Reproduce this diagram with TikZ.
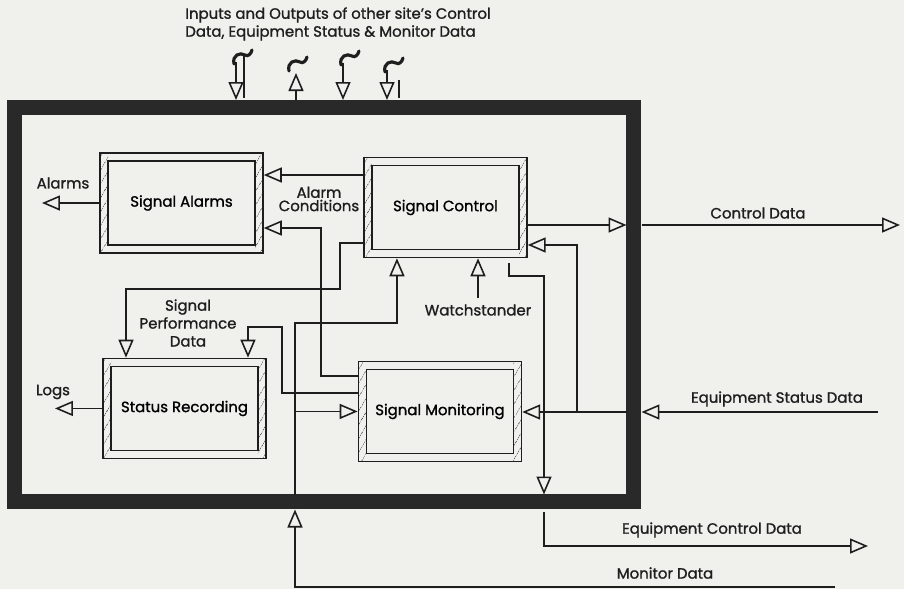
\documentclass[tikz,border=0pt]{standalone}
\usepackage{fontspec}
\setmainfont{Poppins}[FakeBold=1.2]
\usetikzlibrary{arrows.meta, positioning, patterns.meta, calc}
\definecolor{paper}{RGB}{240,240,237}
\definecolor{ink}{RGB}{30,30,30}
\tikzset{
  funcbox/.style={rectangle, draw=ink, line width=0.9pt, minimum width=3.26cm, minimum height=2cm, inner sep=0pt, text centered, font=\fontsize{8.5}{10}\selectfont,
    path picture={
      \fill[pattern={Lines[angle=60, distance=4pt, line width=0.4pt]}, pattern color=ink!70]
        (path picture bounding box.south west) rectangle ([xshift=0.16cm]path picture bounding box.north west)
        ([xshift=-0.16cm]path picture bounding box.south east) rectangle (path picture bounding box.north east);
      \draw[ink, line width=0.9pt] ([shift={(0.16cm,0.16cm)}]path picture bounding box.south west) rectangle ([shift={(-0.16cm,-0.16cm)}]path picture bounding box.north east);
    }},
  arrow/.style={draw=ink, line width=0.9pt, -{Triangle[open, length=0.36cm, width=0.3cm, line width=0.9pt]}},
  plain/.style={draw=ink, line width=0.9pt},
  wire/.style={draw=ink, line width=1.8pt, line cap=round},
  lbl/.style={inner sep=0pt, align=center, text=ink, font=\fontsize{8.5}{10}\selectfont}
}
\newcommand{\wireend}[1]{%
  \draw[wire] ($(#1)+(-2,2)$) .. controls ($(#1)+(-4,-7)$) and ($(#1)+(4,-10)$) .. ($(#1)+(9,-7)$) .. controls ($(#1)+(12,-5)$) and ($(#1)+(15,-8)$) .. ($(#1)+(16,-12)$);}

\begin{document}
\begin{tikzpicture}[x=0.02cm, y=-0.02cm, node distance=5.28cm]
    \fill[paper] (0,0) rectangle (904,589);
    \useasboundingbox (0,0) rectangle (904,589);

    % site boundary
    \node (site) [rectangle, draw=ink!95, line width=0.3cm, minimum width=12.4cm, minimum height=7.89cm, inner sep=0pt, outer sep=0pt] at (324,304.75) {};

    % functions
    \node (alarms) [funcbox] at (181.5,203) {Signal Alarms};
    \node (ctrl) [funcbox, right of=alarms, yshift=-0.09cm] {Signal Control};
    \node (rec) [funcbox, below of=alarms, node distance=4.11cm, xshift=0.06cm] {Status Recording};
    \node (mon) [funcbox, right of=rec, node distance=5.11cm, yshift=-0.06cm] {Signal Monitoring};

    % labels
    \node (lblTop) [lbl, anchor=north west, align=left, font=\fontsize{8.5}{10.2}\selectfont] at (185,7) {Inputs and Outputs of other site's Control\\Data, Equipment Status \& Monitor Data};
    \node (lblAlarms) [lbl] at (63,183) {Alarms};
    \node (lblCond) [lbl, font=\fontsize{8.5}{7.6}\selectfont] at (319,199) {Alarm\\Conditions};
    \node (lblPerf) [lbl, font=\fontsize{8.5}{10.2}\selectfont] at (188,323) {Signal\\Performance\\Data};
    \node (watch) [lbl] at (478,310) {Watchstander};
    \node (lblLogs) [lbl] at (53,392) {Logs};
    \node (lblCtrlData) [lbl] at (758,213) {Control Data};
    \node (lblEqStat) [lbl] at (777,399) {Equipment Status Data};
    \node (lblEqCtrl) [lbl] at (712,530) {Equipment Control Data};
    \node (lblMonData) [lbl] at (665,573) {Monitor Data};

    % frame crossings and ends
    \coordinate (cdIn) at (626.5,225);
    \coordinate (cdOut) at (641.5,225);
    \coordinate (cdEnd) at (900,225);
    \coordinate (esIn) at (626.5,412);
    \coordinate (esOut) at (641.5,412);
    \coordinate (esEnd) at (878,412);
    \coordinate (esBr) at (577,412);
    \coordinate (ecBend) at (544,276);
    \coordinate (ecIn) at (544,494.5);
    \coordinate (ecOut) at (544,512);
    \coordinate (ecEnd) at (868,546);
    \coordinate (mdIn) at (295,494.5);
    \coordinate (mdOut) at (295,509.5);
    \coordinate (mdEnd) at (835,587);
    \coordinate (mdBend) at (295,323);
    \coordinate (acBend) at (321,228);
    \coordinate (pdBend) at (340,289);
    \coordinate (pdBendB) at (282,327);
    \coordinate (alarmsEnd) at (42,202);
    \coordinate (logsEnd) at (55,410);

    % outputs and inputs of the site
    \draw [arrow] ([yshift=-0.35cm]ctrl.east) -- (cdIn);
    \draw [arrow] (cdOut) -- (cdEnd);
    \draw [arrow] (esEnd) -- (esOut);
    \draw [arrow] (esIn) -- (esIn -| mon.east);
    \draw [arrow] (esBr) |- ([yshift=-0.75cm]ctrl.east);
    \draw [arrow] ([xshift=1.27cm, yshift=-0.1cm]ctrl.south) |- (ecBend) -- (ecIn);
    \draw [arrow] (ecOut) |- (ecEnd);
    \draw [arrow] (mdEnd) -| (mdOut);
    \draw [arrow] (mdIn) -- (mdBend) -| ([xshift=-0.97cm]ctrl.south);
    \draw [arrow] (mdIn |- mon.west) -- (mon.west);
    \draw [arrow] ([yshift=0.12cm]watch.north) -- (watch.north |- ctrl.south);

    % between functions
    \draw [arrow] ([yshift=0.65cm]ctrl.west) -- ([yshift=0.65cm]ctrl.west -| alarms.east);
    \draw [arrow] ([yshift=0.71cm]mon.west) -| (acBend) -- (acBend -| alarms.east);
    \draw [arrow] ([yshift=-0.71cm]ctrl.west) -| (pdBend) -| ([xshift=-1.17cm]rec.north);
    \draw [arrow] ([yshift=0.37cm]mon.west) -| (pdBendB) -| ([xshift=1.27cm]rec.north);
    \draw [arrow] (alarms.west) -- (alarms.west -| alarmsEnd);
    \draw [arrow] (rec.west) -- (rec.west -| logsEnd);

    % other sites
    \coordinate (tA) at (236,62);   \coordinate (tAin) at (236,100);
    \coordinate (tB) at (296,73);   \coordinate (tBin) at (296,100);
    \coordinate (tC) at (343,63);   \coordinate (tCin) at (343,100);
    \coordinate (tD) at (387,70);   \coordinate (tDin) at (387,100);
    \draw [arrow] (tA) -- (tAin);
    \draw [arrow] (tBin) -- (tB);
    \draw [arrow] (tC) -- (tCin);
    \draw [arrow] (tD) -- (tDin);
    \draw [plain] (244,56) -- (244,98);
    \draw [plain] (399,80) -- (399,98);
    \wireend{tA}
    \wireend{291,69}
    \wireend{tC}
    \wireend{tD}
\end{tikzpicture}
\end{document}
